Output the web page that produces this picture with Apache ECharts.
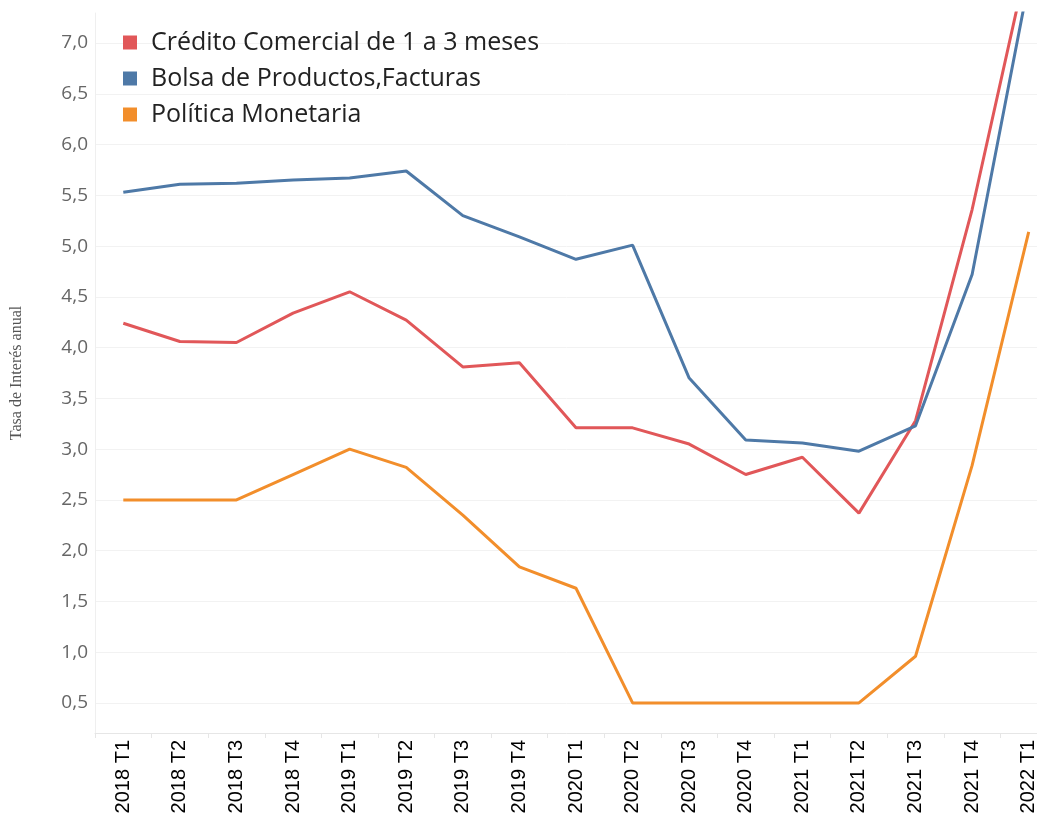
<!DOCTYPE html>
<html>
<head>
<meta charset="utf-8">
<script src="https://cdn.jsdelivr.net/npm/echarts@6/dist/echarts.min.js"></script>
<style>
html,body{margin:0;padding:0;background:#fff;}
#chart{width:1037px;height:819px;}
</style>
</head>
<body>
<div id="chart"></div>
<script>
const categories = ["2018 T1","2018 T2","2018 T3","2018 T4","2019 T1","2019 T2","2019 T3","2019 T4","2020 T1","2020 T2","2020 T3","2020 T4","2021 T1","2021 T2","2021 T3","2021 T4","2022 T1"];
const credito = [4.24,4.06,4.05,4.34,4.55,4.27,3.81,3.85,3.21,3.21,3.05,2.75,2.92,2.37,3.28,5.36,7.86];
const bolsa = [5.53,5.61,5.62,5.65,5.67,5.74,5.30,5.09,4.87,5.01,3.70,3.09,3.06,2.98,3.23,4.72,7.60];
const politica = [2.5,2.5,2.5,2.75,3.0,2.82,2.35,1.84,1.63,0.5,0.5,0.5,0.5,0.5,0.96,2.84,5.14];
const yTicks = [0.5,1.0,1.5,2.0,2.5,3.0,3.5,4.0,4.5,5.0,5.5,6.0,6.5,7.0];
const seriesNames = ["Crédito Comercial de 1 a 3 meses","Bolsa de Productos,Facturas","Política Monetaria"];
const colors = ["#e15759","#4e79a7","#f28e2b"];

const chart = echarts.init(document.getElementById('chart'));
function mk(name, data, color){
  return {name:name,type:'line',data:data,symbol:'none',smooth:false,
    lineStyle:{width:3,color:color},itemStyle:{color:color},clip:true};
}
chart.setOption({
  animation:false,
  color:colors,
  grid:{left:95,width:962,top:13,height:720,containLabel:false,outerBoundsMode:'none'},
  legend:{
    left:118,top:25,orient:'vertical',itemGap:11,itemWidth:14,itemHeight:14,
    icon:'rect',
    textStyle:{fontFamily:'Open Sans',fontSize:25,color:'#222',padding:[0,0,0,9]},
    data:seriesNames
  },
  xAxis:{
    type:'category',data:categories,boundaryGap:true,
    axisLine:{show:true,lineStyle:{color:'#e6e6e6',width:1}},
    axisTick:{show:true,length:5,lineStyle:{color:'#e6e6e6'}},
    axisLabel:{rotate:90,color:'#000',fontFamily:'Liberation Sans',fontSize:20,margin:7,interval:0},
    splitLine:{show:false}
  },
  yAxis:{
    type:'value',min:0.204,max:7.296,
    name:'Tasa de Interés anual',nameLocation:'middle',nameGap:70,
    nameTextStyle:{fontFamily:'Liberation Serif',fontSize:16,color:'#555'},
    axisLine:{show:true,lineStyle:{color:'#efefef'}},
    axisTick:{show:false,customValues:yTicks},
    axisLabel:{customValues:yTicks,color:'#666',fontFamily:'Open Sans',fontSize:19,margin:7,
      formatter:function(v){return v.toFixed(1).replace('.',',');}},
    splitLine:{show:true,lineStyle:{color:'#f2f2f2',width:1}}
  },
  series:[mk(seriesNames[0],credito,colors[0]),mk(seriesNames[1],bolsa,colors[1]),mk(seriesNames[2],politica,colors[2])]
});
</script>
</body>
</html>
